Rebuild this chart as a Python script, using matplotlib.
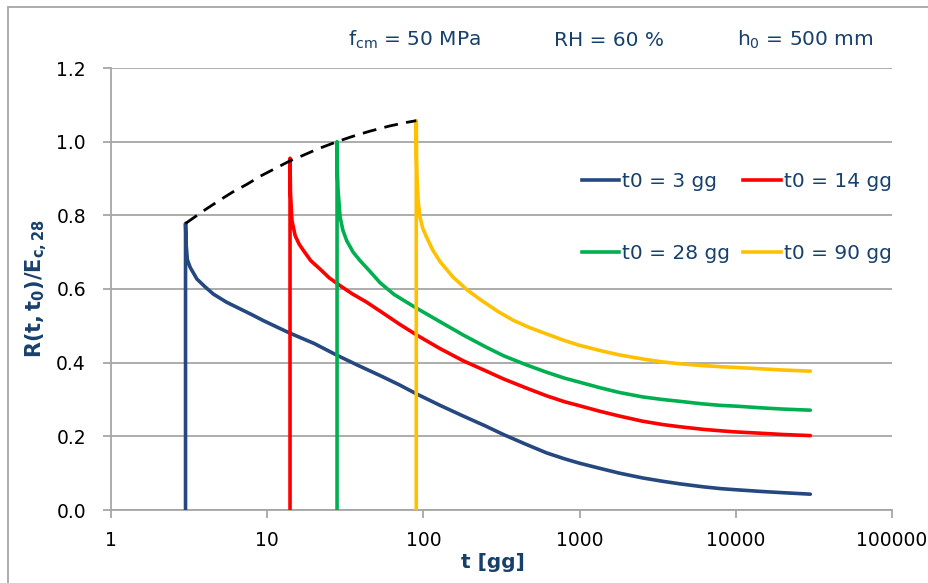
import matplotlib
matplotlib.use("Agg")
import matplotlib.pyplot as plt
from matplotlib.lines import Line2D
from matplotlib.patches import Rectangle
from matplotlib.ticker import FixedLocator, FixedFormatter, NullLocator

# ---- data ----
t_3 = [3, 3, 3.03, 3.08, 3.21, 3.55, 4.0, 4.53, 5.5, 6.71, 8.0, 9.47, 11.5, 14, 20, 28,
       38, 52.8, 70, 90.6, 128, 180, 250, 325, 450, 615, 800, 1000, 1349, 1800, 2535,
       3400, 4385, 6170, 8000, 10000, 15000, 20000, 30000]
r_3 = [0, 0.778, 0.72, 0.68, 0.659, 0.627, 0.606, 0.586, 0.564, 0.546, 0.53, 0.514,
       0.497, 0.48, 0.452, 0.42, 0.393, 0.365, 0.34, 0.315, 0.284, 0.255, 0.228, 0.205,
       0.179, 0.155, 0.139, 0.127, 0.113, 0.1, 0.087, 0.078, 0.071, 0.063, 0.058, 0.055,
       0.05, 0.047, 0.043]

t_14 = [14, 14, 14.05, 14.1, 14.4, 15.1, 16.0, 17.1, 19, 21.8, 25, 29.3, 35, 43.4, 52.8,
        70, 90.6, 128, 180, 250, 325, 450, 615, 800, 1000, 1349, 1800, 2535, 3400, 4385,
        6170, 8000, 10000, 15000, 20000, 30000]
r_14 = [0, 0.955, 0.9, 0.86, 0.786, 0.745, 0.722, 0.704, 0.677, 0.654, 0.63, 0.609,
        0.587, 0.564, 0.54, 0.505, 0.475, 0.438, 0.405, 0.378, 0.356, 0.332, 0.31, 0.294,
        0.283, 0.268, 0.255, 0.241, 0.232, 0.226, 0.219, 0.215, 0.212, 0.208, 0.205, 0.202]

t_28 = [28, 28, 28.1, 28.4, 29.3, 30.5, 32.3, 35.5, 39.3, 45, 52.8, 65, 86.3, 128, 180,
        250, 325, 450, 615, 800, 1000, 1349, 1800, 2535, 3400, 4385, 6170, 8000, 10000,
        15000, 20000, 30000]
r_28 = [0, 1.0, 0.93, 0.87, 0.795, 0.76, 0.731, 0.7, 0.677, 0.65, 0.617, 0.585, 0.553,
        0.511, 0.475, 0.443, 0.419, 0.395, 0.374, 0.358, 0.347, 0.332, 0.319, 0.307, 0.3,
        0.295, 0.288, 0.284, 0.282, 0.277, 0.274, 0.271]

t_90 = [90, 90, 90.3, 91, 92.5, 95.1, 99, 105, 115, 128, 155, 190, 230, 300, 376, 480,
        615, 800, 1000, 1349, 1800, 2535, 3400, 4385, 6170, 8000, 10000, 15000, 20000,
        30000]
r_90 = [0, 1.057, 0.96, 0.9, 0.84, 0.795, 0.765, 0.74, 0.705, 0.674, 0.632, 0.598,
        0.572, 0.539, 0.515, 0.495, 0.478, 0.46, 0.447, 0.433, 0.421, 0.41, 0.402, 0.397,
        0.392, 0.389, 0.387, 0.383, 0.38, 0.377]

t_env = [3, 4, 5, 6, 7.4, 9, 11, 14, 17, 21, 28, 35, 45, 60, 75, 90]
r_env = [0.778, 0.815, 0.842, 0.863, 0.884, 0.906, 0.925, 0.948, 0.963, 0.98, 1.0,
         1.014, 1.028, 1.042, 1.051, 1.057]

series_labels = ["t0 = 3 gg", "t0 = 14 gg", "t0 = 28 gg", "t0 = 90 gg"]
x_ticks = [1, 10, 100, 1000, 10000, 100000]
x_tick_labels = ["1", "10", "100", "1000", "10000", "100000"]
y_ticks = [0.0, 0.2, 0.4, 0.6, 0.8, 1.0, 1.2]

# ---- style ----
C_BLUE = "#24487F"
C_RED = "#FF0000"
C_GREEN = "#00B050"
C_YELLOW = "#FFC000"
C_TEXT = "#17406D"
C_GRID = "#A6A6A6"

W, H = 929, 583
fig = plt.figure(figsize=(W / 100, H / 100), dpi=100)
fig.patch.set_facecolor("white")

# outer chart border
fig.patches.append(Rectangle((8 / W, -0.2), 1.2, (H - 7) / H + 0.2,
                             transform=fig.transFigure, fill=False,
                             edgecolor=C_GRID, lw=1.3))

L, R, T, B = 111, 892, 68, 510
ax = fig.add_axes([L / W, (H - B) / H, (R - L) / W, (B - T) / H])
ax.set_xscale("log")
ax.set_xlim(1, 100000)
ax.set_ylim(0, 1.2)

lw = 2.6
kw = dict(lw=lw, solid_capstyle="round", solid_joinstyle="round", zorder=3)
ax.plot(t_3, r_3, color=C_BLUE, **kw)
ax.plot(t_14, r_14, color=C_RED, **kw)
ax.plot(t_28, r_28, color=C_GREEN, **kw)
ax.plot(t_90, r_90, color=C_YELLOW, **kw)
ax.plot(t_env, r_env, color="black", lw=2.0, linestyle=(0, (5, 3)), zorder=4)

ax.xaxis.set_major_locator(FixedLocator(x_ticks))
ax.xaxis.set_major_formatter(FixedFormatter(x_tick_labels))
ax.xaxis.set_minor_locator(NullLocator())
ax.set_yticks(y_ticks)
ax.set_yticklabels([f"{v:.1f}" for v in y_ticks])

ax.grid(axis="y", color=C_GRID, lw=1.3)
ax.set_axisbelow(True)
for s in ["top", "right"]:
    ax.spines[s].set_visible(False)
for s in ["left", "bottom"]:
    ax.spines[s].set_color(C_GRID)
    ax.spines[s].set_linewidth(1.3)
ax.tick_params(axis="both", direction="out", length=6, width=1.3, color=C_GRID,
               labelsize=13.5, labelcolor="black")
ax.tick_params(axis="x", pad=9)
ax.tick_params(axis="y", pad=12)

ax.set_xlabel("t [gg]", fontsize=14.5, fontweight="bold", color=C_TEXT)
ax.xaxis.set_label_coords((493 - L) / (R - L), -(562 - B) / (B - T))
ax.xaxis.label.set_va("center")
ax.set_ylabel(r"$\mathbf{R(t,t_0)/E_{c,28}}$", fontsize=15, color=C_TEXT, labelpad=5)

# annotations
fig.text(414 / W, 1 - 40 / H, r"f$_{\mathrm{cm}}$ = 50 MPa", fontsize=14.5, color=C_TEXT,
         ha="center", va="center")
fig.text(609 / W, 1 - 40 / H, "RH = 60 %", fontsize=14.5, color=C_TEXT,
         ha="center", va="center")
fig.text(805 / W, 1 - 40 / H, r"h$_0$ = 500 mm", fontsize=14.5, color=C_TEXT,
         ha="center", va="center")

# legend (row-major order: 3, 14 / 28, 90)
handles = [Line2D([], [], color=c, lw=lw) for c in (C_BLUE, C_RED, C_GREEN, C_YELLOW)]
order = [0, 2, 1, 3]
leg = ax.legend([handles[i] for i in order], [series_labels[i] for i in order],
                ncol=2, frameon=False, fontsize=14.5, labelcolor=C_TEXT,
                handlelength=1.85, handletextpad=0.15, columnspacing=0.65,
                labelspacing=2.65, borderpad=0, borderaxespad=0,
                loc="upper left", bbox_to_anchor=(582 / W, 1 - 172 / H),
                bbox_transform=fig.transFigure)

fig.savefig("out.png", dpi=100)
